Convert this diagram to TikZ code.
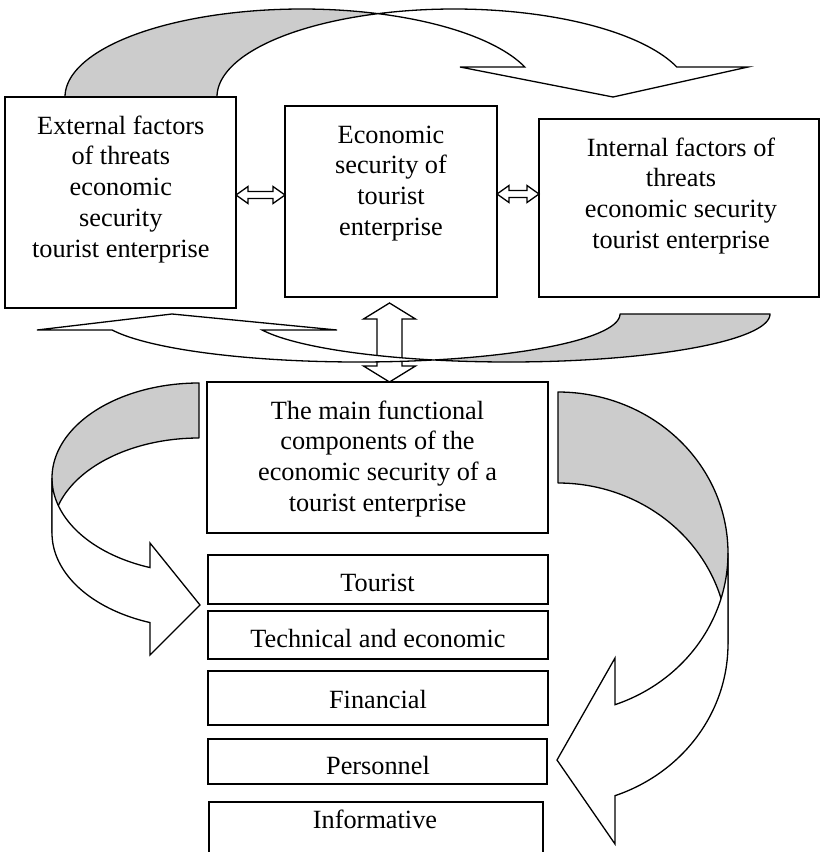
\documentclass[tikz,border=0pt]{standalone}
\usepackage{fontspec}
\setmainfont{Liberation Serif}
\begin{document}
\begin{tikzpicture}[x=1pt,y=-1pt,
  font=\fontsize{26.3}{30.7}\selectfont,
  box/.style={draw, line width=1.6pt, fill=white, inner sep=0pt, outer sep=0pt},
  txt/.style={align=center, inner sep=0pt},
  backband/.style={draw, line width=1.3pt, fill=black!20, line join=round},
  frontband/.style={draw, line width=1.3pt, fill=white, line join=miter},
  blockarrow/.style={draw, line width=1.3pt, fill=white, line join=miter}]
\useasboundingbox (0,0) rectangle (820,852);

% ---- top curved arrow (down arrow) ----
\path[backband] plot[domain=180:288.7, samples=80] ({302+237*cos(\x)},{97+88*sin(\x)})
  -- plot[domain=251.3:180, samples=80] ({454+237*cos(\x)},{97+88*sin(\x)}) -- cycle;
\path[frontband] plot[domain=251.3:340.1, samples=80] ({454+237*cos(\x)},{97+88*sin(\x)})
  -- (748,67) -- (613,97) -- (460,67)
  -- plot[domain=340.1:288.7, samples=80] ({302+237*cos(\x)},{97+88*sin(\x)}) -- cycle;

% ---- top boxes ----
\node[box, minimum width=231pt, minimum height=211pt] (ext) at (120.5,202.5) {};
\node[box, minimum width=212pt, minimum height=191pt] (mid) at (391,201.5) {};
\node[box, minimum width=280pt, minimum height=178pt] (int) at (679,208) {};

% ---- left curved arrow (right arrow) ----
\path[backband] plot[domain=270:180, samples=80] ({199+147*cos(\x)},{478+95*sin(\x)})
  -- plot[domain=180:270, samples=80] ({199+147*cos(\x)},{533+95*sin(\x)}) -- cycle;
\path[frontband] plot[domain=180:109.5, samples=80] ({199+147*cos(\x)},{478+95*sin(\x)})
  -- (150,543) -- (200,605) -- (150,655)
  -- plot[domain=109.5:180, samples=80] ({199+147*cos(\x)},{533+95*sin(\x)}) -- cycle;

% ---- right curved arrow (left arrow) ----
\path[backband] plot[domain=270:360, samples=80] ({558+170*cos(\x)},{553+161*sin(\x)})
  -- plot[domain=360:270, samples=80] ({558+170*cos(\x)},{644+161*sin(\x)}) -- cycle;
\path[frontband] plot[domain=0:70.4, samples=80] ({558+170*cos(\x)},{553+161*sin(\x)})
  -- (615,658) -- (557,760) -- (615,844)
  -- plot[domain=70.4:0, samples=80] ({558+170*cos(\x)},{644+161*sin(\x)}) -- cycle;

% ---- main and component boxes ----
\node[box, minimum width=341pt, minimum height=151pt] (main) at (377.5,457.5) {};
\node[box, minimum width=340pt, minimum height=49pt] (tour) at (378,579.5) {};
\node[box, minimum width=340pt, minimum height=48pt] (tech) at (378,635) {};
\node[box, minimum width=340pt, minimum height=54pt] (fin) at (378,698) {};
\node[box, minimum width=339pt, minimum height=45pt] (pers) at (377.5,761.5) {};
\node[box, minimum width=334pt, minimum height=70pt] (info) at (376,837) {};

% ---- double block arrows ----
\coordinate (la1) at (236,195);
\coordinate (la2) at (285,195);
\draw[blockarrow] (la1) -- (248,186.5) -- (248,191.5) -- (273,191.5) -- (273,186.5)
  -- (la2) -- (273,203.5) -- (273,198.5) -- (248,198.5) -- (248,203.5) -- cycle;
\coordinate (ra1) at (497,194);
\coordinate (ra2) at (539,194);
\draw[blockarrow] (ra1) -- (509,185.5) -- (509,190.5) -- (527,190.5) -- (527,185.5)
  -- (ra2) -- (527,202.5) -- (527,197.5) -- (509,197.5) -- (509,202.5) -- cycle;
\coordinate (va1) at (389.5,303);
\coordinate (va2) at (389.5,382);
\draw[blockarrow] (va1) -- (415.5,319) -- (402,319) -- (402,366) -- (415.5,366)
  -- (va2) -- (363.5,366) -- (377,366) -- (377,319) -- (363.5,319) -- cycle;

% ---- lower curved arrow (up arrow) ----
\path[backband] plot[domain=0:106.7, samples=80] ({508.6+261.4*cos(\x)},{314+48*sin(\x)})
  -- plot[domain=73.3:0, samples=80] ({358.6+261.4*cos(\x)},{314+48*sin(\x)}) -- cycle;
\path[frontband] plot[domain=73.3:160.5, samples=80] ({358.6+261.4*cos(\x)},{314+48*sin(\x)})
  -- (37,330) -- (172,314) -- (337,330)
  -- plot[domain=160.5:106.7, samples=80] ({508.6+261.4*cos(\x)},{314+48*sin(\x)}) -- cycle;

% ---- texts ----
\node[txt, anchor=north] (ext-t) at (120.8,115.5) {External factors\\of threats\\economic\\security\\tourist enterprise};
\node[txt, anchor=north] (mid-t) at (391,125.5) {Economic\\security of\\tourist\\enterprise};
\node[txt, anchor=north] (int-t) at (681,137.5) {Internal factors of\\threats\\economic security\\tourist enterprise};
\node[txt, anchor=north] (main-t) at (377.5,400.5) {The main functional\\components of the\\economic security of a\\tourist enterprise};
\node[txt, anchor=base] (tour-t) at (377.5,591.5) {Tourist};
\node[txt, anchor=base] (tech-t) at (378,647.5) {Technical and economic};
\node[txt, anchor=base] (fin-t) at (378,708) {Financial};
\node[txt, anchor=base] (pers-t) at (378,774) {Personnel};
\node[txt, anchor=base] (info-t) at (375,828) {Informative};
\end{tikzpicture}
\end{document}
